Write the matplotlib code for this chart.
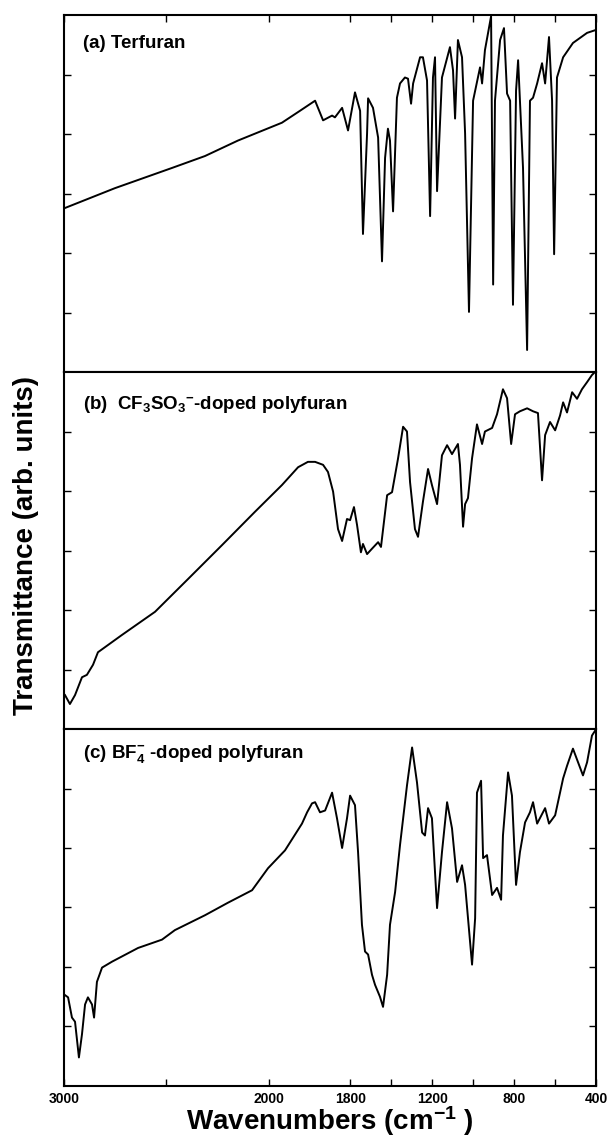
import matplotlib
matplotlib.use('Agg')
import matplotlib.pyplot as plt

plt.rcParams['font.family'] = ['Liberation Sans', 'DejaVu Sans']
plt.rcParams['font.weight'] = 'bold'
plt.rcParams['mathtext.fontset'] = 'custom'
plt.rcParams['mathtext.rm'] = 'Liberation Sans:bold'
plt.rcParams['mathtext.bf'] = 'Liberation Sans:bold'
plt.rcParams['mathtext.it'] = 'Liberation Sans:bold'
plt.rcParams['mathtext.default'] = 'bf'

# (a) terfuran: wavenumber / transmittance (arb.)
wn_a = [3000, 2751, 2472, 2311, 2150, 1935, 1847, 1773, 1734, 1690, 1676, 1641,
        1612, 1578, 1553, 1539, 1519, 1514, 1490, 1465, 1446, 1431, 1417, 1407,
        1392, 1373, 1358, 1334, 1319, 1304, 1294, 1260, 1246, 1226, 1211, 1197,
        1187, 1177, 1153, 1114, 1099, 1089, 1075, 1055, 1040, 1021, 1001, 967,
        957, 943, 913, 903, 894, 869, 850, 835, 820, 806, 791, 781, 772, 757,
        737, 723, 708, 688, 664, 649, 630, 615, 605, 591, 561, 513, 444, 400]
t_a = [2.75, 3.09, 3.43, 3.63, 3.89, 4.19, 4.39, 4.56, 4.23, 4.31, 4.28, 4.44,
       4.06, 4.70, 4.39, 2.32, 4.01, 4.60, 4.44, 3.94, 1.86, 3.60, 4.09, 3.89,
       2.70, 4.61, 4.85, 4.95, 4.93, 4.51, 4.85, 5.29, 5.29, 4.90, 2.62, 4.95,
       5.29, 3.04, 4.95, 5.46, 5.07, 4.26, 5.58, 5.29, 4.01, 1.01, 4.56, 5.12,
       4.85, 5.41, 5.98, 1.47, 4.56, 5.58, 5.78, 4.68, 4.56, 1.13, 4.73, 5.24, 4.56, 3.43,
       0.37, 4.56, 4.61, 4.85, 5.19, 4.85, 5.63, 4.56, 1.98, 4.95, 5.29, 5.53, 5.70, 5.75]

# (b) CF3SO3- doped polyfuran
wn_b = [2995, 2971, 2946, 2912, 2888, 2858, 2834, 2717, 2555, 2394, 2228, 2067,
        1935, 1856, 1808, 1773, 1734, 1710, 1685, 1661, 1641, 1617, 1602, 1583,
        1568, 1549, 1539, 1519, 1495, 1465, 1451, 1421, 1397, 1368, 1343, 1324,
        1309, 1285, 1270, 1246, 1221, 1202, 1177, 1153, 1128, 1104, 1075, 1065,
        1050, 1040, 1026, 1006, 982, 957, 943, 908, 884, 855, 835, 815, 796, 772,
        737, 708, 684, 664, 649, 625, 600, 576, 561, 542, 517, 493, 469, 444, 420, 405]
t_b = [0.57, 0.42, 0.57, 0.87, 0.91, 1.08, 1.29, 1.58, 1.97, 2.52, 3.09, 3.65,
       4.10, 4.40, 4.49, 4.49, 4.44, 4.32, 3.99, 3.36, 3.16, 3.53, 3.51, 3.73,
       3.43, 2.97, 3.11, 2.94, 3.03, 3.14, 3.06, 3.93, 3.98, 4.54, 5.08, 5.00,
       4.15, 3.36, 3.23, 3.82, 4.37, 4.10, 3.78, 4.60, 4.77, 4.62, 4.79, 4.44,
       3.40, 3.78, 3.88, 4.55, 5.12, 4.79, 5.00, 5.06, 5.29, 5.71, 5.56, 4.79, 5.29, 5.34,
       5.39, 5.34, 5.31, 4.18, 4.94, 5.16, 5.02, 5.27, 5.49, 5.32, 5.66, 5.55, 5.71, 5.83, 5.95, 6.0]

# (c) BF4- doped polyfuran
wn_c = [3000, 2980, 2961, 2946, 2927, 2912, 2897, 2883, 2863, 2853, 2839, 2814,
        2765, 2638, 2521, 2458, 2311, 2199, 2081, 2003, 1920, 1837, 1812, 1788,
        1773, 1749, 1724, 1690, 1666, 1641, 1617, 1602, 1578, 1563, 1544, 1529,
        1514, 1495, 1480, 1456, 1441, 1421, 1407, 1382, 1358, 1324, 1299, 1275,
        1250, 1236, 1221, 1202, 1177, 1153, 1128, 1104, 1079, 1055, 1040, 1006,
        991, 982, 962, 952, 933, 908, 884, 864, 855, 830, 811, 791, 772, 747,
        723, 708, 688, 649, 630, 600, 561, 542, 513, 488, 464, 444, 420, 405]
t_c = [1.54, 1.49, 1.15, 1.08, 0.48, 0.87, 1.37, 1.49, 1.37, 1.15, 1.75, 1.99,
       2.09, 2.32, 2.46, 2.62, 2.87, 3.08, 3.29, 3.66, 3.96, 4.41, 4.60, 4.75,
       4.77, 4.60, 4.63, 4.93, 4.50, 4.00, 4.50, 4.88, 4.72, 3.93, 2.71, 2.26,
       2.21, 1.87, 1.70, 1.50, 1.33, 1.87, 2.71, 3.26, 4.05, 5.05, 5.69, 5.10,
       4.26, 4.21, 4.67, 4.50, 2.99, 3.93, 4.77, 4.33, 3.43, 3.71, 3.38, 2.04,
       2.82, 4.93, 5.13, 3.83, 3.88, 3.21, 3.33, 3.13, 4.21, 5.27, 4.88, 3.38, 3.93, 4.43,
       4.60, 4.77, 4.41, 4.67, 4.41, 4.55, 5.17, 5.38, 5.67, 5.44, 5.22, 5.44, 5.89, 5.97]

labels = [r"(a) Terfuran",
          r"(b)  CF$_3$SO$_3$$^{-}$-doped polyfuran",
          r"(c) BF$_4^{-}$ -doped polyfuran"]
label_y = [0.92, 0.91, 0.93]

xticks = [3000, 2500, 2000, 1600, 1400, 1200, 1000, 800, 600, 400]
xticklabels = ['3000', '', '2000', '1800', '', '1200', '', '800', '', '400']

fig, axes = plt.subplots(3, 1, figsize=(6.07, 11.38), dpi=100, sharex=True,
                         gridspec_kw=dict(hspace=0))
fig.subplots_adjust(left=0.1054, right=0.982, top=0.9868, bottom=0.0457)

data = [(wn_a, t_a), (wn_b, t_b), (wn_c, t_c)]
for i, ax in enumerate(axes):
    wn, t = data[i]
    ax.plot(wn, t, color='black', lw=1.4)
    ax.set_ylim(0, 6)
    ax.set_xlim(3000, 400)
    ax.set_yticks([1, 2, 3, 4, 5])
    ax.set_yticklabels([])
    ax.tick_params(axis='y', direction='in', left=True, right=True, length=5, width=1)
    ax.tick_params(axis='x', direction='in', top=(i == 0), bottom=(i == 2),
                   length=5, width=1)
    for s in ax.spines.values():
        s.set_linewidth(1.5)
    ax.text(0.035, label_y[i], labels[i], transform=ax.transAxes,
            fontsize=13.5, fontweight='bold', va='center', ha='left')

axes[2].set_xticks(xticks)
axes[2].set_xticklabels(xticklabels, fontsize=10, fontweight='bold')
axes[2].tick_params(axis='x', pad=4)

fig.text(0.043, 0.521, "Transmittance (arb. units)", rotation=90, fontsize=20,
         fontweight='bold', va='center', ha='center')
fig.text(0.544, 0.015, r"Wavenumbers (cm$^{-1}$ )", fontsize=20,
         fontweight='bold', va='center', ha='center')

plt.savefig('out.png', dpi=100)
